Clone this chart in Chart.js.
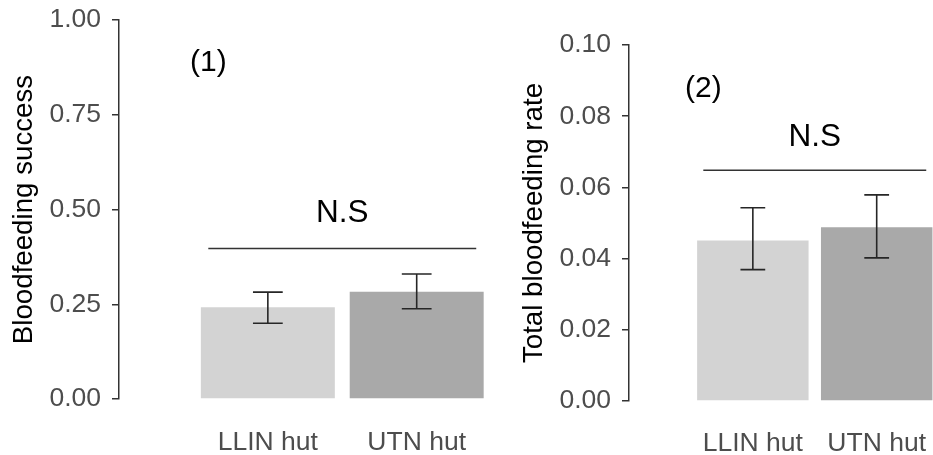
<!DOCTYPE html>
<html>
<head>
<meta charset="utf-8">
<script src="https://cdn.jsdelivr.net/npm/chart.js@4.4.0/dist/chart.umd.min.js"></script>
<style>
  html, body { margin: 0; padding: 0; background: #ffffff; overflow: hidden; }
  #wrap { position: relative; width: 933px; height: 455px; overflow: hidden; background: #fff; }
  .pane { position: absolute; top: 0; height: 455px; }
  #p1 { left: 0; width: 509px; }
  #p2 { left: 510px; width: 441px; }
</style>
</head>
<body>
<div id="wrap">
  <div class="pane" id="p1"><canvas id="c1"></canvas></div>
  <div class="pane" id="p2"><canvas id="c2"></canvas></div>
</div>
<script>
// ---- data ----
const categories = ['LLIN hut', 'UTN hut'];
const categoryPositions = [1, 2];
const barColors = ['#d3d3d3', '#a9a9a9'];

const successMean  = [0.242, 0.283];
const successLower = [0.200, 0.238];
const successUpper = [0.282, 0.330];
const successTicks = [0, 0.25, 0.5, 0.75, 1.0];

const rateMean  = [0.0451, 0.0488];
const rateLower = [0.0369, 0.0402];
const rateUpper = [0.0543, 0.0579];
const rateTicks = [0, 0.02, 0.04, 0.06, 0.08, 0.10];

const panelLabels = ['(1)', '(2)'];
const sigText = 'N.S';
const successSig = { x0: 0.6, x1: 2.4, y: 0.397, textY: 0.491 };
const rateSig    = { x0: 0.6, x1: 2.4, y: 0.0648, textY: 0.0742 };
const successLabelPos = { x: 0.6, y: 0.887 };
const rateLabelPos    = { x: 0.6, y: 0.0876 };

const FONT = "'Liberation Sans', Arial, Helvetica, sans-serif";

const annotPlugin = {
  id: 'annot',
  afterDatasetsDraw(chart, args, opts) {
    const { ctx } = chart;
    const xs = chart.scales.x, ys = chart.scales.y;
    ctx.save();
    // error bars
    ctx.strokeStyle = '#262626';
    ctx.lineWidth = 1.6;
    const capHalf = (xs.getPixelForValue(0.1) - xs.getPixelForValue(0));
    opts.lower.forEach((lo, i) => {
      const x = xs.getPixelForValue(categoryPositions[i]);
      const yl = ys.getPixelForValue(lo);
      const yu = ys.getPixelForValue(opts.upper[i]);
      ctx.beginPath();
      ctx.moveTo(x, yl); ctx.lineTo(x, yu);
      ctx.moveTo(x - capHalf, yl); ctx.lineTo(x + capHalf, yl);
      ctx.moveTo(x - capHalf, yu); ctx.lineTo(x + capHalf, yu);
      ctx.stroke();
    });
    // significance line
    const s = opts.sig;
    ctx.strokeStyle = '#333333';
    ctx.lineWidth = 1.6;
    ctx.beginPath();
    ctx.moveTo(xs.getPixelForValue(s.x0), ys.getPixelForValue(s.y));
    ctx.lineTo(xs.getPixelForValue(s.x1), ys.getPixelForValue(s.y));
    ctx.stroke();
    ctx.fillStyle = '#000000';
    ctx.textAlign = 'center';
    ctx.textBaseline = 'middle';
    ctx.font = '31.5px ' + FONT;
    ctx.fillText(sigText, xs.getPixelForValue((s.x0 + s.x1) / 2), ys.getPixelForValue(s.textY));
    // panel label
    ctx.font = '30px ' + FONT;
    ctx.fillText(opts.label, xs.getPixelForValue(opts.labelPos.x), ys.getPixelForValue(opts.labelPos.y));
    ctx.restore();
  }
};

function makePanel(canvasId, cfg) {
  const plotBottom = cfg.plotBottom;
  return new Chart(document.getElementById(canvasId), {
    type: 'bar',
    data: {
      datasets: [{
        data: categoryPositions.map((x, i) => ({ x: x, y: cfg.mean[i] })),
        backgroundColor: barColors,
        borderWidth: 0,
        categoryPercentage: 1.0,
        barPercentage: 0.9
      }]
    },
    options: {
      responsive: true,
      maintainAspectRatio: false,
      animation: false,
      devicePixelRatio: 1,
      layout: { padding: { top: cfg.plotTop, right: cfg.padRight, bottom: 0, left: 0 } },
      plugins: {
        legend: { display: false },
        tooltip: { enabled: false },
        annot: { lower: cfg.lower, upper: cfg.upper, sig: cfg.sig, label: cfg.label, labelPos: cfg.labelPos }
      },
      scales: {
        x: {
          type: 'linear',
          offset: false,
          min: 0,
          max: 2.6,
          afterFit(scale) {
            scale.height = 455 - plotBottom;
            scale.paddingLeft = 0; scale.paddingRight = 0;
          },
          afterBuildTicks(scale) { scale.ticks = [0].concat(categoryPositions).map(v => ({ value: v })); },
          ticks: {
            autoSkip: false,
            maxRotation: 0,
            padding: cfg.xPad,
            color: '#4d4d4d',
            font: { family: FONT, size: 26.5 },
            callback: (v) => { const i = categoryPositions.indexOf(v); return i >= 0 ? categories[i] : ''; }
          },
          grid: { display: false, drawTicks: false },
          border: { display: false }
        },
        y: {
          min: cfg.ticks[0],
          max: cfg.ticks[cfg.ticks.length - 1],
          afterFit(scale) {
            scale.width = 119;
            scale.paddingTop = 0; scale.paddingBottom = 0;
          },
          afterBuildTicks(scale) { scale.ticks = cfg.ticks.map(v => ({ value: v })); },
          ticks: {
            padding: 11,
            color: '#4d4d4d',
            font: { family: FONT, size: 26.5 },
            callback: (v) => Number(v).toFixed(2)
          },
          grid: { display: true, drawOnChartArea: false, drawTicks: true, tickLength: 7, color: '#333333', lineWidth: 1.5 },
          border: { display: true, color: '#333333', width: 1.5 },
          title: {
            display: true,
            text: cfg.title,
            color: '#000000',
            font: { family: FONT, size: 27.7 },
            padding: { top: 8, bottom: 0 }
          }
        }
      }
    },
    plugins: [annotPlugin]
  });
}

makePanel('c1', {
  mean: successMean, lower: successLower, upper: successUpper, ticks: successTicks,
  title: 'Bloodfeeding success', sig: successSig, label: panelLabels[0], labelPos: successLabelPos,
  plotTop: 20, plotBottom: 399, padRight: 3, xPad: 28
});
makePanel('c2', {
  mean: rateMean, lower: rateLower, upper: rateUpper, ticks: rateTicks,
  title: 'Total bloodfeeding rate', sig: rateSig, label: panelLabels[1], labelPos: rateLabelPos,
  plotTop: 45, plotBottom: 401, padRight: 0, xPad: 27
});
</script>
</body>
</html>
